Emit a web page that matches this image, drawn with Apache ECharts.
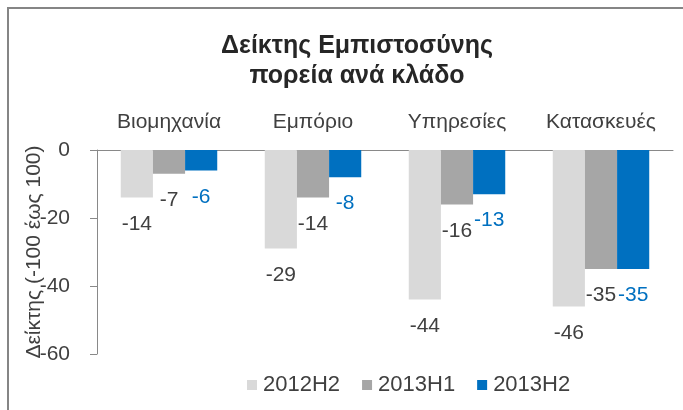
<!DOCTYPE html>
<html>
<head>
<meta charset="utf-8">
<script src="https://cdn.jsdelivr.net/npm/echarts@6/dist/echarts.min.js"></script>
<style>
  html, body { margin: 0; padding: 0; background: #fff; }
  #chart { width: 683px; height: 410px; }
</style>
</head>
<body>
<div id="chart"></div>
<script>
// Sectors and confidence index per half-year
const sectors = ["Βιομηχανία", "Εμπόριο", "Υπηρεσίες", "Κατασκευές"];
const h2012H2 = [-14, -29, -44, -46];
const h2013H1 = [-7, -14, -16, -35];
const h2013H2 = [-6, -8, -13, -35];
const yTicks = { min: -60, max: 0, interval: 20 };

const FONT = "Liberation Sans";
const TEXT = "#404040";

const chart = echarts.init(document.getElementById("chart"));

function barSeries(name, data, color, labelColor) {
  return {
    name: name,
    type: "bar",
    data: data,
    barGap: "0%",
    barCategoryGap: "33%",
    itemStyle: { color: color },
    label: {
      show: true,
      position: "bottom",
      distance: 16,
      color: labelColor,
      fontFamily: FONT,
      fontSize: 21,
    },
  };
}

chart.setOption({
  animation: false,
  title: {
    text: "Δείκτης Εμπιστοσύνης\nπορεία ανά κλάδο",
    left: 357,
    top: 31,
    padding: 0,
    textAlign: "center",
    textStyle: {
      fontFamily: FONT,
      fontWeight: "bold",
      fontSize: 25,
      lineHeight: 30,
      color: "#262626",
    },
  },
  graphic: [
    {
      type: "rect",
      shape: { x: 8, y: 8, width: 800, height: 600 },
      style: { fill: "none", stroke: "#858585", lineWidth: 2 },
      silent: true,
    },
  ],
  legend: {
    left: 247,
    top: 374,
    padding: 0,
    itemWidth: 10,
    itemHeight: 10,
    itemGap: 22,
    icon: "rect",
    textStyle: { fontFamily: FONT, fontSize: 22, color: TEXT, padding: [0, 0, 0, 1] },
    data: ["2012H2", "2013H1", "2013H2"],
  },
  grid: { left: 97, right: 10, top: 150, bottom: 56 },
  xAxis: {
    type: "category",
    position: "top",
    data: sectors,
    axisLine: { lineStyle: { color: "#898989" } },
    axisTick: { length: 6, lineStyle: { color: "#898989" } },
    axisLabel: { margin: 17, fontFamily: FONT, fontSize: 21, color: TEXT },
  },
  yAxis: {
    type: "value",
    min: yTicks.min,
    max: yTicks.max,
    interval: yTicks.interval,
    name: "Δείκτης (-100 έως 100)",
    nameLocation: "middle",
    nameGap: 52,
    nameMoveOverlap: false,
    nameTextStyle: { fontFamily: FONT, fontSize: 21, color: TEXT },
    axisLine: { show: true, lineStyle: { color: "#898989" } },
    axisTick: { show: true, length: 7, lineStyle: { color: "#898989" } },
    axisLabel: { margin: 27, fontFamily: FONT, fontSize: 21, color: TEXT },
    splitLine: { show: false },
  },
  series: [
    barSeries("2012H2", h2012H2, "#d9d9d9", TEXT),
    barSeries("2013H1", h2013H1, "#a6a6a6", TEXT),
    barSeries("2013H2", h2013H2, "#0070c0", "#0070c0"),
  ],
});
</script>
</body>
</html>
